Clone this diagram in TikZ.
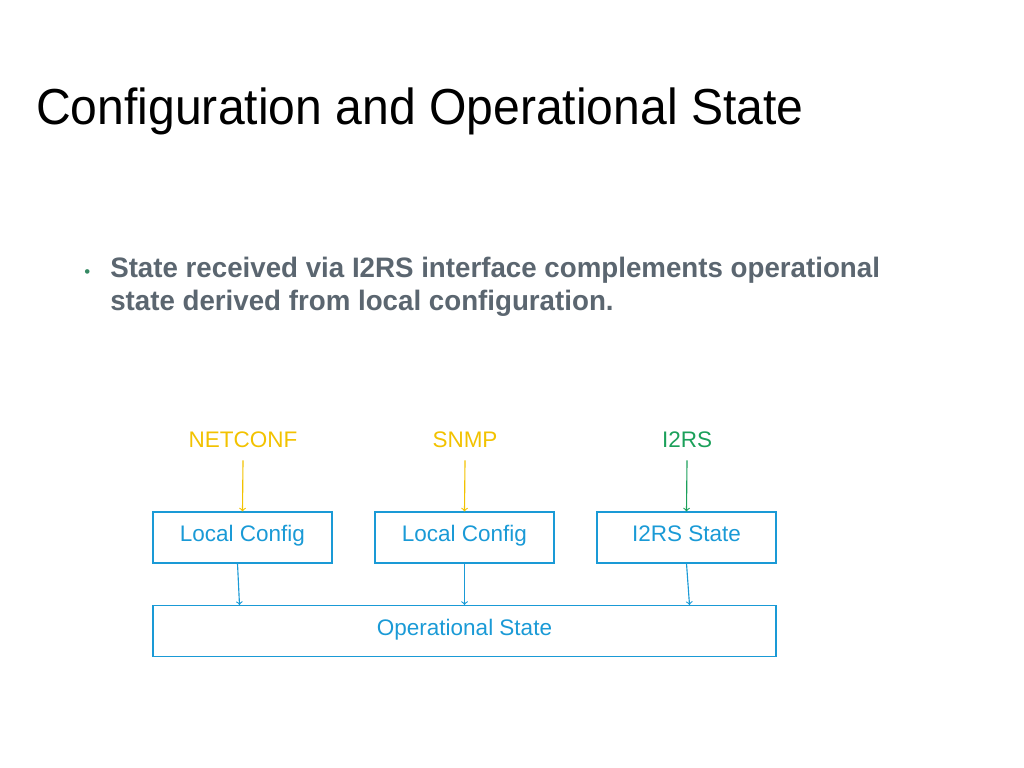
\documentclass[tikz,border=0pt]{standalone}
\usepackage{fontspec}
\setmainfont{Liberation Sans}
\usetikzlibrary{arrows}
\definecolor{boxblue}{HTML}{1A9AD6}
\definecolor{netyellow}{HTML}{F2C200}
\definecolor{i2green}{HTML}{1BA05A}
\definecolor{textgrey}{HTML}{5B6670}
\tikzset{block/.style={rectangle, draw=boxblue, line width=0.8pt, text=boxblue, font=\fontsize{16}{18}\selectfont, text height=1.6ex, text depth=0.4ex, minimum height=51*0.025cm, inner sep=0pt},
    label/.style={font=\fontsize{16}{18}\selectfont, text height=1.6ex, text depth=0.4ex},
    line/.style={draw, -to, line width=0.8pt}}

\begin{document}
\begin{tikzpicture}[x=0.025cm, y=-0.025cm]
    \useasboundingbox (0,0) rectangle (1024,768);
    % Title and bullet
    \node [anchor=base west, inner sep=0pt, font=\fontsize{36}{40}\selectfont, xscale=0.95] (title) at (36,125) {Configuration and Operational State};
    \node [anchor=base west, inner sep=0pt, text=i2green!60!textgrey, font=\fontsize{12}{13}\selectfont] (dot) at (84,277) {•};
    \node [anchor=base west, inner sep=0pt, text=textgrey, font=\bfseries\fontsize{20}{23}\selectfont, align=left, xscale=0.985] (bullet) at (110,310) {State received via I2RS interface complements operational\\state derived from local configuration.};
    % Place nodes
    \node [label, text=netyellow] (netconf) at (243,443) {NETCONF};
    \node [label, text=netyellow] (snmp) at (465,443) {SNMP};
    \node [label, text=i2green] (i2rs) at (687,443) {I2RS};
    \node [block, minimum width=179*0.025cm] (cfga) at (242.5,537.5) {Local Config};
    \node [block, minimum width=179*0.025cm] (cfgb) at (464.5,537.5) {Local Config};
    \node [block, minimum width=179*0.025cm] (i2state) at (686.5,537.5) {I2RS State};
    \node [block, minimum width=623*0.025cm] (opstate) at (464.5,631) {Operational State};
    % Draw edges
    \path [line, netyellow] (netconf.south) ++(0,5) -- (cfga.north);
    \path [line, netyellow] (snmp.south) ++(0,5) -- (cfgb.north);
    \path [line, i2green] (i2rs.south) ++(0,5) -- (i2state.north);
    \path [line, boxblue] ([xshift=-5*0.025cm]cfga.south) -- ([xshift=-3*0.025cm]cfga.south |- opstate.north);
    \path [line, boxblue] (cfgb.south) -- (cfgb.south |- opstate.north);
    \path [line, boxblue] (i2state.south) -- ([xshift=3*0.025cm]i2state.south |- opstate.north);
\end{tikzpicture}
\end{document}
